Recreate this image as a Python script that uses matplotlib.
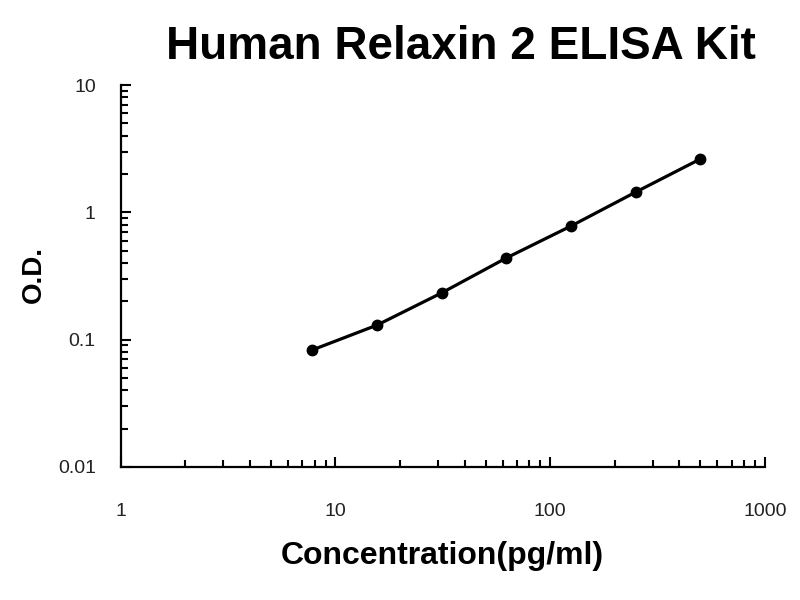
import matplotlib.pyplot as plt
from matplotlib.ticker import LogLocator, FixedLocator, NullFormatter

plt.rcParams['font.family'] = ['Liberation Sans', 'DejaVu Sans']

# standardni krivka ELISA
konc = [7.8, 15.6, 31.25, 62.5, 125, 250, 500]   # pg/ml
od = [0.083, 0.130, 0.233, 0.438, 0.78, 1.44, 2.62]

xticks = [1, 10, 100, 1000]
xlabels = ['1', '10', '100', '1000']
yticks = [0.01, 0.1, 1, 10]
ylabels = ['0.01', '0.1', '1', '10']

fig = plt.figure(figsize=(8, 6), dpi=100)
ax = fig.add_axes([0.151, 0.2217, 0.805, 0.6366])

ax.plot(konc, od, 'k-', lw=2.3, marker='o', ms=7.5, mfc='k', mec='k')

ax.set_xscale('log')
ax.set_yscale('log')
ax.set_xlim(1, 1000)
ax.set_ylim(0.01, 10)

ax.xaxis.set_major_locator(FixedLocator(xticks))
ax.set_xticklabels(xlabels)
ax.yaxis.set_major_locator(FixedLocator(yticks))
ax.set_yticklabels(ylabels)
ax.xaxis.set_minor_locator(LogLocator(base=10, subs=range(2, 10)))
ax.yaxis.set_minor_locator(LogLocator(base=10, subs=range(2, 10)))
ax.xaxis.set_minor_formatter(NullFormatter())
ax.yaxis.set_minor_formatter(NullFormatter())

ax.tick_params(which='both', direction='in', width=1.5, color='k')
ax.tick_params(which='major', length=7)
ax.tick_params(which='minor', length=5)
ax.tick_params(axis='x', which='major', pad=26, labelsize=14, labelcolor='#222222')
ax.tick_params(axis='y', which='major', pad=18, labelsize=14, labelcolor='#222222')

for s in ['top', 'right']:
    ax.spines[s].set_visible(False)
for s in ['left', 'bottom']:
    ax.spines[s].set_linewidth(1.6)

fig.text(461/800, 1 - 59/600, 'Human Relaxin 2 ELISA Kit', fontsize=33,
         fontweight='bold', ha='center', va='baseline')
fig.text(442/800, 1 - 556/600, 'Concentration(pg/ml)', fontsize=23,
         fontweight='bold', ha='center', va='center')
fig.text(34/800, 1 - 275/600, 'O.D.', fontsize=20, fontweight='bold',
         ha='center', va='center', rotation=90)

plt.savefig('out.png')
